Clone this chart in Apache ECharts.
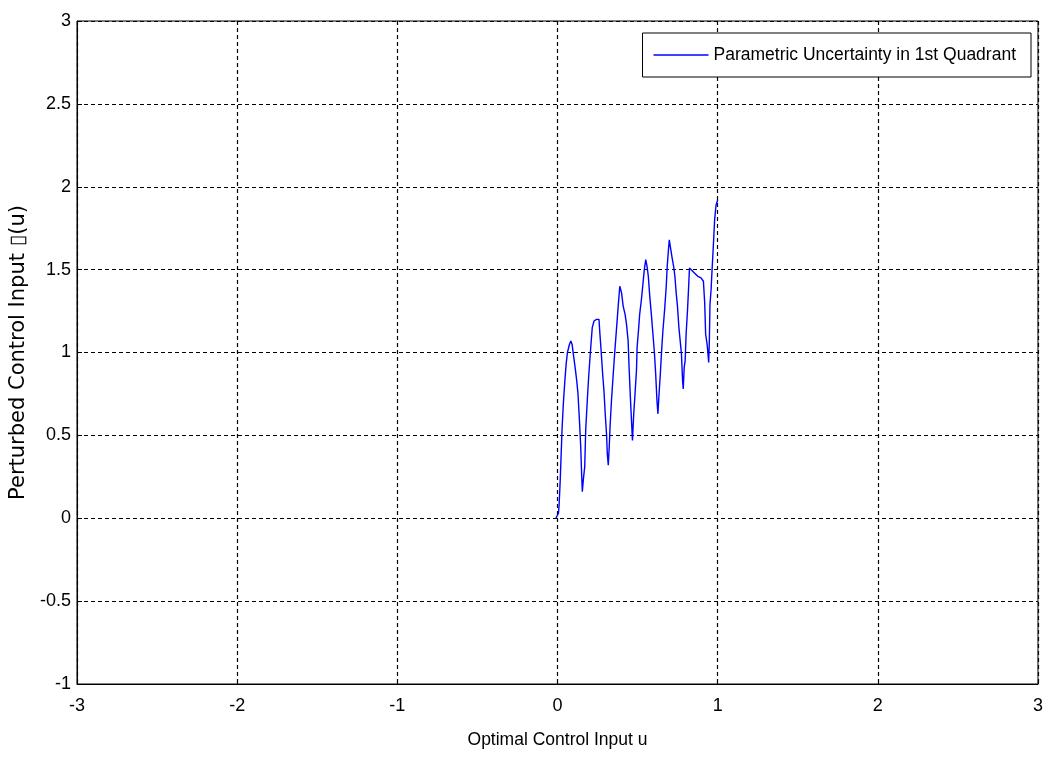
<!DOCTYPE html>
<html>
<head>
<meta charset="utf-8">
<script src="https://cdn.jsdelivr.net/npm/echarts@6/dist/echarts.min.js"></script>
<style>html,body{margin:0;padding:0;background:#fff;}#c{width:1046px;height:758px;}</style>
</head>
<body>
<div id="c"></div>
<script>
const xTicks = [-3, -2, -1, 0, 1, 2, 3];
const yTicks = [-1, -0.5, 0, 0.5, 1, 1.5, 2, 2.5, 3];
const seriesName = 'Parametric Uncertainty in 1st Quadrant';
const xLabel = 'Optimal Control Input u';
const yLabel = 'Perturbed Control Input \u25AF(u)';
const uValues = [-0.01,0,0.006,0.010,0.017,0.023,0.029,0.037,0.046,0.054,0.062,0.075,0.083,0.091,0.099,0.110,0.120,0.128,0.137,0.145,0.151,0.155,0.161,0.170,0.176,0.186,0.195,0.203,0.209,0.217,0.228,0.244,0.259,0.265,0.271,0.282,0.290,0.298,0.306,0.311,0.317,0.323,0.329,0.337,0.348,0.358,0.369,0.379,0.389,0.400,0.410,0.422,0.431,0.441,0.447,0.455,0.462,0.468,0.476,0.484,0.493,0.497,0.507,0.513,0.524,0.534,0.542,0.551,0.559,0.567,0.576,0.586,0.596,0.605,0.613,0.621,0.627,0.634,0.642,0.650,0.658,0.669,0.679,0.685,0.692,0.698,0.706,0.714,0.725,0.733,0.741,0.749,0.758,0.766,0.774,0.781,0.785,0.791,0.797,0.803,0.812,0.818,0.824,0.834,0.855,0.876,0.896,0.911,0.919,0.925,0.934,0.938,0.944,0.948,0.952,0.959,0.963,0.969,0.975,0.981,0.990,1.000];
const perturbedValues = [0,0,0.03,0.08,0.23,0.39,0.55,0.70,0.83,0.93,1.00,1.05,1.07,1.05,0.99,0.91,0.83,0.75,0.59,0.43,0.26,0.16,0.23,0.31,0.53,0.71,0.86,0.97,1.05,1.15,1.19,1.20,1.20,1.11,1.03,0.87,0.77,0.63,0.51,0.39,0.32,0.43,0.57,0.71,0.87,1.01,1.15,1.28,1.40,1.36,1.28,1.23,1.17,1.07,0.91,0.73,0.59,0.47,0.63,0.75,0.89,1.03,1.15,1.23,1.32,1.42,1.50,1.56,1.52,1.46,1.34,1.23,1.11,1.00,0.87,0.71,0.63,0.75,0.87,1.01,1.13,1.26,1.40,1.52,1.61,1.68,1.63,1.58,1.52,1.46,1.36,1.28,1.15,1.07,0.99,0.83,0.78,0.91,0.95,1.11,1.26,1.38,1.51,1.51,1.48,1.46,1.45,1.43,1.30,1.11,1.05,1.01,0.94,1.07,1.29,1.38,1.46,1.57,1.68,1.80,1.89,1.92];

const pts = uValues.map((u, i) => [u, perturbedValues[i]]);
const sans = "'Liberation Sans', Arial, sans-serif";
const chart = echarts.init(document.getElementById('c'), null, {renderer: 'canvas'});
chart.setOption({
  backgroundColor: '#fff',
  animation: false,
  grid: {left: 77, right: 7, top: 21, bottom: 74, show: true, borderColor: '#000', borderWidth: 1, backgroundColor: '#fff'},
  legend: {
    right: 15, top: 33,
    data: [{name: seriesName, icon: 'rect'}],
    itemWidth: 55, itemHeight: 1.3, itemGap: 0,
    padding: [13, 15, 13, 11],
    borderColor: '#000', borderWidth: 1, backgroundColor: '#fff',
    textStyle: {fontFamily: sans, fontSize: 17.5, color: '#000'}
  },
  xAxis: {
    type: 'value', min: xTicks[0], max: xTicks[xTicks.length - 1], interval: 1,
    name: xLabel, nameLocation: 'middle', nameGap: 47,
    nameTextStyle: {fontFamily: sans, fontSize: 17.5, color: '#000'},
    axisLine: {show: true, onZero: false, lineStyle: {color: '#000', width: 1}},
    axisTick: {show: true, inside: true, length: 5, lineStyle: {color: '#000'}},
    axisLabel: {fontFamily: sans, fontSize: 18, color: '#000', margin: 13},
    splitLine: {show: true, lineStyle: {color: '#000', type: [4, 3], width: 1.2}}
  },
  yAxis: {
    type: 'value', min: yTicks[0], max: yTicks[yTicks.length - 1], interval: 0.5,
    name: yLabel, nameLocation: 'middle', nameGap: 46, nameRotate: 90,
    nameTextStyle: {fontFamily: "'DejaVu Sans', sans-serif", fontSize: 21, color: '#000'},
    axisLine: {show: true, onZero: false, lineStyle: {color: '#000', width: 1}},
    axisTick: {show: true, inside: true, length: 5, lineStyle: {color: '#000'}},
    axisLabel: {fontFamily: sans, fontSize: 18, color: '#000', margin: 6},
    splitLine: {show: true, lineStyle: {color: '#000', type: [4, 3], width: 1.2}}
  },
  series: [{
    name: seriesName, type: 'line', data: pts, showSymbol: false, symbol: 'none',
    lineStyle: {color: '#0000ff', width: 1.4}, itemStyle: {color: '#0000ff'}
  }]
});
</script>
</body>
</html>
